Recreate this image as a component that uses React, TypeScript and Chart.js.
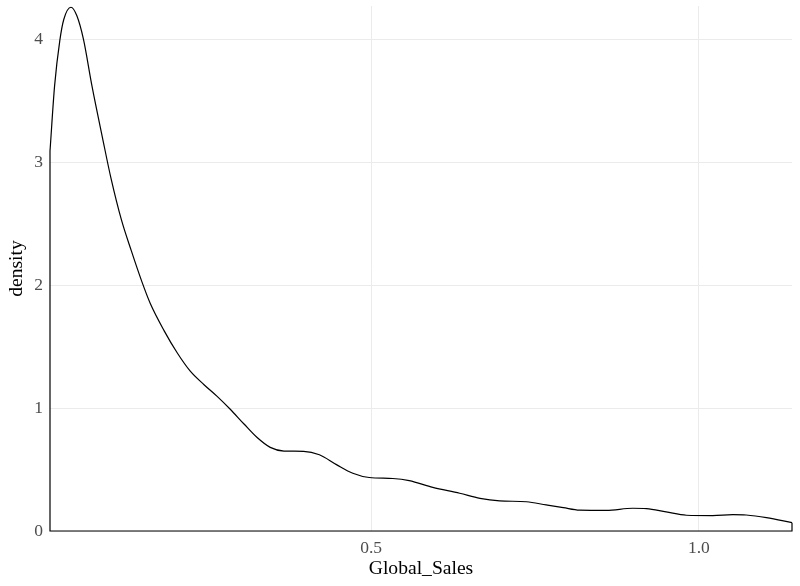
import React, { useEffect, useRef } from "react";
import { Chart, registerables } from "chart.js";

Chart.register(...registerables);

// Density curve (Global_Sales vs density)
const salesX: number[] = [
  0.010, 0.017, 0.025, 0.031, 0.042, 0.051, 0.061, 0.074, 0.090, 0.103,
  0.119, 0.134, 0.150, 0.163, 0.184, 0.204, 0.224, 0.245, 0.265, 0.285,
  0.306, 0.326, 0.346, 0.367, 0.397, 0.421, 0.447, 0.472, 0.497, 0.533,
  0.558, 0.594, 0.635, 0.666, 0.696, 0.737, 0.767, 0.793, 0.818, 0.859,
  0.899, 0.920, 0.950, 0.981, 1.021, 1.052, 1.072, 1.103, 1.142,
];
const densityY: number[] = [
  3.09, 3.62, 3.99, 4.16, 4.26, 4.19, 4.00, 3.62, 3.20, 2.87,
  2.53, 2.28, 2.03, 1.85, 1.63, 1.45, 1.30, 1.19, 1.095, 0.99,
  0.87, 0.76, 0.68, 0.65, 0.648, 0.62, 0.54, 0.47, 0.435, 0.427,
  0.41, 0.355, 0.307, 0.265, 0.245, 0.238, 0.212, 0.19, 0.17, 0.168,
  0.185, 0.182, 0.155, 0.128, 0.125, 0.133, 0.13, 0.109, 0.068,
];
const xMin = 0.01;
const xMax = 1.142;
const yMax = 4.27;
const xTickStep = 0.5;
const yTickStep = 1;
const xTitle = "Global_Sales";
const yTitle = "density";

const FONT = "'Liberation Serif', 'Times New Roman', serif";

export default function App() {
  const ref = useRef<HTMLCanvasElement | null>(null);

  useEffect(() => {
    if (!ref.current) return;
    const curve = salesX.map((x, i) => ({ x, y: densityY[i] }));
    const last = curve[curve.length - 1];
    const first = curve[0];
    const edges = [
      { x: last.x, y: last.y },
      { x: last.x, y: 0 },
      { x: first.x, y: 0 },
      { x: first.x, y: first.y },
    ];
    const chart = new Chart(ref.current, {
      type: "line",
      data: {
        datasets: [
          {
            data: curve,
            borderColor: "#000000",
            borderWidth: 1.2,
            pointRadius: 0,
            fill: false,
            cubicInterpolationMode: "monotone",
            clip: false,
          },
          {
            data: edges,
            borderColor: "#000000",
            borderWidth: 1.2,
            pointRadius: 0,
            fill: false,
            tension: 0,
            clip: false,
          },
        ],
      },
      options: {
        responsive: false,
        animation: false,
        events: [],
        layout: { padding: { top: 6, right: 8, left: 0, bottom: 0 } },
        plugins: {
          legend: { display: false },
          tooltip: { enabled: false },
          title: { display: false },
        },
        scales: {
          x: {
            type: "linear",
            min: xMin,
            max: xMax,
            afterFit: (s: any) => {
              s.height = 55;
              s.paddingLeft = 0;
              s.paddingRight = 0;
            },
            border: { display: false },
            grid: { color: "#ebebeb", lineWidth: 1, drawTicks: false },
            ticks: {
              stepSize: xTickStep,
              includeBounds: false,
              padding: 7,
              color: "#4d4d4d",
              font: { family: FONT, size: 17.5 },
              maxRotation: 0,
              callback: (v: any) => Number(v).toFixed(1),
            },
            title: {
              display: true,
              text: xTitle,
              color: "#000000",
              font: { family: FONT, size: 19.6 },
              padding: { top: 0, bottom: 5 },
            },
          },
          y: {
            type: "linear",
            min: 0,
            max: yMax,
            afterFit: (s: any) => {
              s.width = 50;
              s.paddingTop = 0;
              s.paddingBottom = 0;
            },
            border: { display: false },
            grid: { color: "#ebebeb", lineWidth: 1, drawTicks: false },
            ticks: {
              stepSize: yTickStep,
              includeBounds: false,
              padding: 7,
              color: "#4d4d4d",
              font: { family: FONT, size: 17.5 },
              callback: (v: any) => String(Math.round(Number(v))),
            },
            title: {
              display: true,
              text: yTitle,
              color: "#000000",
              font: { family: FONT, size: 19.6 },
              padding: { top: 5, bottom: 0 },
            },
          },
        },
      },
    } as any);
    return () => chart.destroy();
  }, []);

  return (
    <div style={{ position: "fixed", left: 0, top: 0, width: 800, height: 586, background: "#ffffff" }}>
      <canvas ref={ref} width={800} height={586} style={{ display: "block", width: 800, height: 586 }} />
    </div>
  );
}
